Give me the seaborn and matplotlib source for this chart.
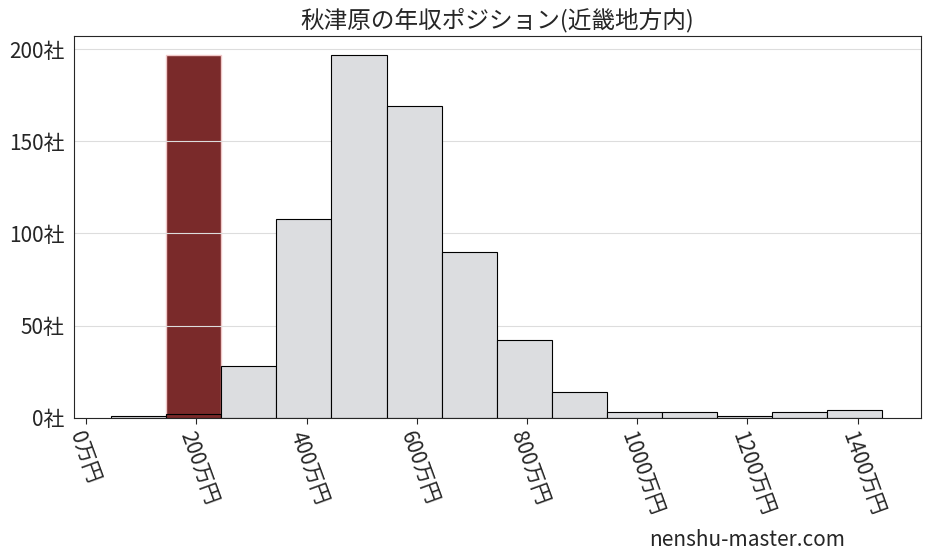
import matplotlib
matplotlib.use("Agg")
import matplotlib.pyplot as plt
import seaborn as sns
import pandas as pd

bin_centers = [95, 195, 295, 395, 495, 595, 695, 795, 895, 995, 1095, 1195, 1295, 1395]
counts = [1, 2, 28, 108, 197, 169, 90, 42, 14, 3, 3, 1, 3, 4]
highlight_center = 195
xticks = [0, 200, 400, 600, 800, 1000, 1200, 1400]
yticks = [0, 50, 100, 150, 200]

sns.set_style("white")
plt.rcParams['font.family'] = ['Noto Sans CJK JP', 'DejaVu Sans']

fig, ax = plt.subplots(figsize=(9.27, 5.57), dpi=100)
df = pd.DataFrame({"x": bin_centers, "w": counts})
edges = [45 + 100 * i for i in range(15)]
sns.histplot(data=df, x="x", weights="w", bins=edges, color="#dcdde0",
             edgecolor="black", linewidth=0.8, alpha=1, ax=ax)
ax.axvspan(highlight_center - 50, highlight_center + 50, ymax=max(counts) / 207,
           color="#f0c8c8", zorder=0)
for p in ax.patches:
    if abs(p.get_x() + p.get_width() / 2 - highlight_center) < 1:
        p.set_facecolor("#7a2a2a")
ax.set_xlim(-22, 1514)
ax.set_ylim(0, 207)
ax.set_xticks(xticks)
ax.set_xticklabels([f"{v}万円" for v in xticks], rotation=-70, fontsize=15, ha="left", rotation_mode="anchor")
ax.set_yticks(yticks)
ax.set_yticklabels([f"{v}社" for v in yticks], fontsize=15)
ax.tick_params(axis="x", bottom=True, length=4)
ax.yaxis.grid(True, color="#dddddd", linewidth=0.8)
ax.set_axisbelow(True)
ax.set_ylabel("")
ax.set_xlabel("")
ax.set_title("秋津原の年収ポジション(近畿地方内)", fontsize=17)
fig.text(0.70, 0.02, "nenshu-master.com", fontsize=15)
plt.subplots_adjust(left=0.08, right=0.993, top=0.935, bottom=0.25)
fig.savefig("out.png")
